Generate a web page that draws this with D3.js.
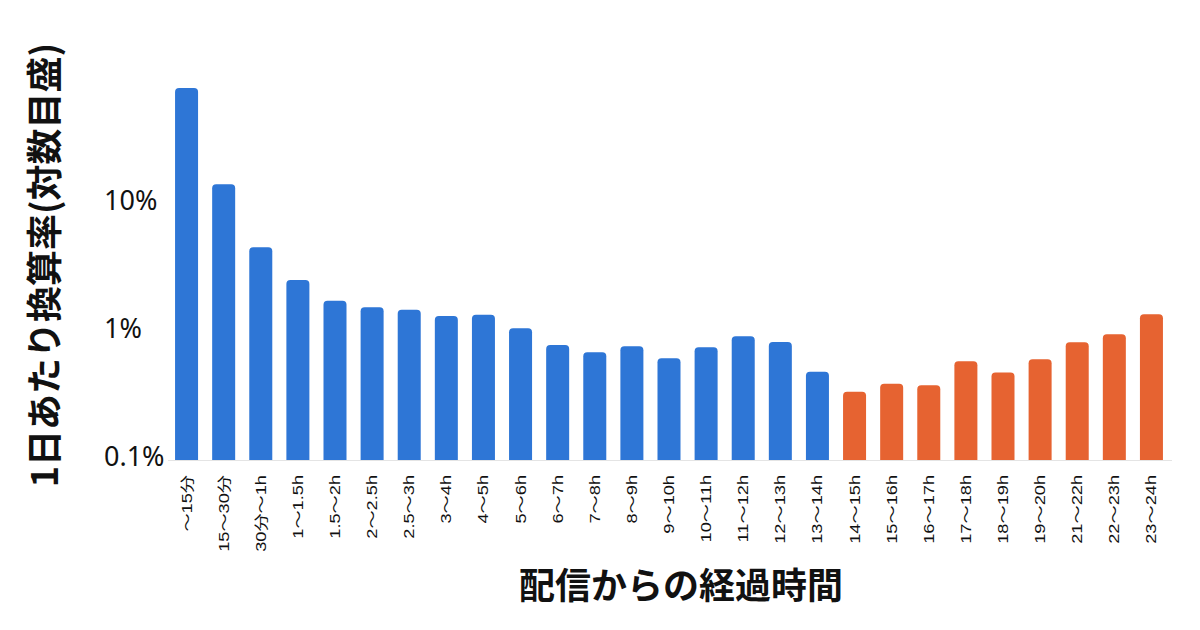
<!DOCTYPE html>
<html>
<head>
<meta charset="utf-8">
<script src="https://cdn.jsdelivr.net/npm/d3@7"></script>
<style>
  body { margin: 0; background: #fff; }
  text { font-family: "Noto Sans CJK JP", "Noto Sans", sans-serif; }
</style>
</head>
<body>
<div id="chart"></div>
<script>
// data (percent per day, log scale)
var categories = ["〜15分", "15〜30分", "30分〜1h", "1〜1.5h", "1.5〜2h", "2〜2.5h", "2.5〜3h",
  "3〜4h", "4〜5h", "5〜6h", "6〜7h", "7〜8h", "8〜9h", "9〜10h", "10〜11h", "11〜12h", "12〜13h",
  "13〜14h", "14〜15h", "15〜16h", "16〜17h", "17〜18h", "18〜19h", "19〜20h", "21〜22h",
  "22〜23h", "23〜24h"];
var values = [75.0, 13.3, 4.27, 2.37, 1.63, 1.45, 1.39, 1.24, 1.27, 0.995, 0.736, 0.646,
  0.719, 0.58, 0.707, 0.861, 0.778, 0.456, 0.318, 0.367, 0.357, 0.549, 0.448, 0.569,
  0.773, 0.893, 1.28];
// first 18 bars are blue, the rest orange
var groups = ["blue", "blue", "blue", "blue", "blue", "blue", "blue", "blue", "blue",
  "blue", "blue", "blue", "blue", "blue", "blue", "blue", "blue", "blue",
  "orange", "orange", "orange", "orange", "orange", "orange", "orange", "orange", "orange"];
var yTicks = [0.1, 1, 10];
var yTickLabels = ["0.1%", "1%", "10%"];

var svgWidth = 1200;
var svgHeight = 630;

var svg = d3.select("#chart")
  .append("svg")
  .attr("width", svgWidth)
  .attr("height", svgHeight);

var baseY = 460;

var xScale = d3.scaleBand()
  .domain(categories)
  .range([168, 1170])
  .paddingInner(0.38)
  .paddingOuter(0.19);

// decade ~128px, 10% at y=200; domain floor slightly under 0.1 so bars sit on baseline
var yScale = d3.scaleLog()
  .domain([0.093, 100])
  .range([baseY, 200 - 128]);

var color = d3.scaleOrdinal()
  .domain(["blue", "orange"])
  .range(["#2e76d6", "#e66331"]);

// baseline
svg.append("line")
  .attr("x1", 168)
  .attr("x2", 1172)
  .attr("y1", baseY + 0.5)
  .attr("y2", baseY + 0.5)
  .attr("stroke", "#e4e4e4")
  .attr("stroke-width", 1);

// bars with rounded tops
function barPath(x, y, w, h, r) {
  return "M" + x + "," + (y + h) +
    "V" + (y + r) +
    "Q" + x + "," + y + " " + (x + r) + "," + y +
    "H" + (x + w - r) +
    "Q" + (x + w) + "," + y + " " + (x + w) + "," + (y + r) +
    "V" + (y + h) + "Z";
}

svg.selectAll("path.bar")
  .data(values)
  .enter()
  .append("path")
  .attr("class", "bar")
  .attr("fill", (d, i) => color(groups[i]))
  .attr("d", (d, i) => barPath(xScale(categories[i]), yScale(d),
    xScale.bandwidth(), baseY - yScale(d), 4));

// y tick labels (left aligned as in the reference)
svg.selectAll("text.ytick")
  .data(yTicks)
  .enter()
  .append("text")
  .attr("class", "ytick")
  .attr("x", 104)
  .attr("y", d => yScale(d))
  .attr("dy", "0.36em")
  .style("font-family", "'Noto Sans', sans-serif")
  .style("font-size", "27px")
  .attr("fill", "#111")
  .text((d, i) => yTickLabels[i]);

// x tick labels, rotated (glyphs look stretched along the text in the reference)
svg.selectAll("text.xtick")
  .data(categories)
  .enter()
  .append("text")
  .attr("class", "xtick")
  .attr("transform", d => `translate(${xScale(d) + xScale.bandwidth() / 2 + 5}, 475) rotate(-90) scale(1.3, 1)`)
  .style("text-anchor", "end")
  .style("font-family", "'Liberation Sans', Arial, 'Noto Sans CJK JP', sans-serif")
  .style("font-size", "14px")
  .attr("fill", "#111")
  .text(d => d);

// axis titles
svg.append("text")
  .attr("transform", "translate(58, 265) rotate(-90)")
  .style("text-anchor", "middle")
  .style("font-size", "36px")
  .style("font-weight", "bold")
  .attr("fill", "#111")
  .text("1日あたり換算率(対数目盛)");

svg.append("text")
  .attr("x", 681)
  .attr("y", 599)
  .style("text-anchor", "middle")
  .style("font-size", "36px")
  .style("font-weight", "bold")
  .attr("fill", "#111")
  .text("配信からの経過時間");
</script>
</body>
</html>
